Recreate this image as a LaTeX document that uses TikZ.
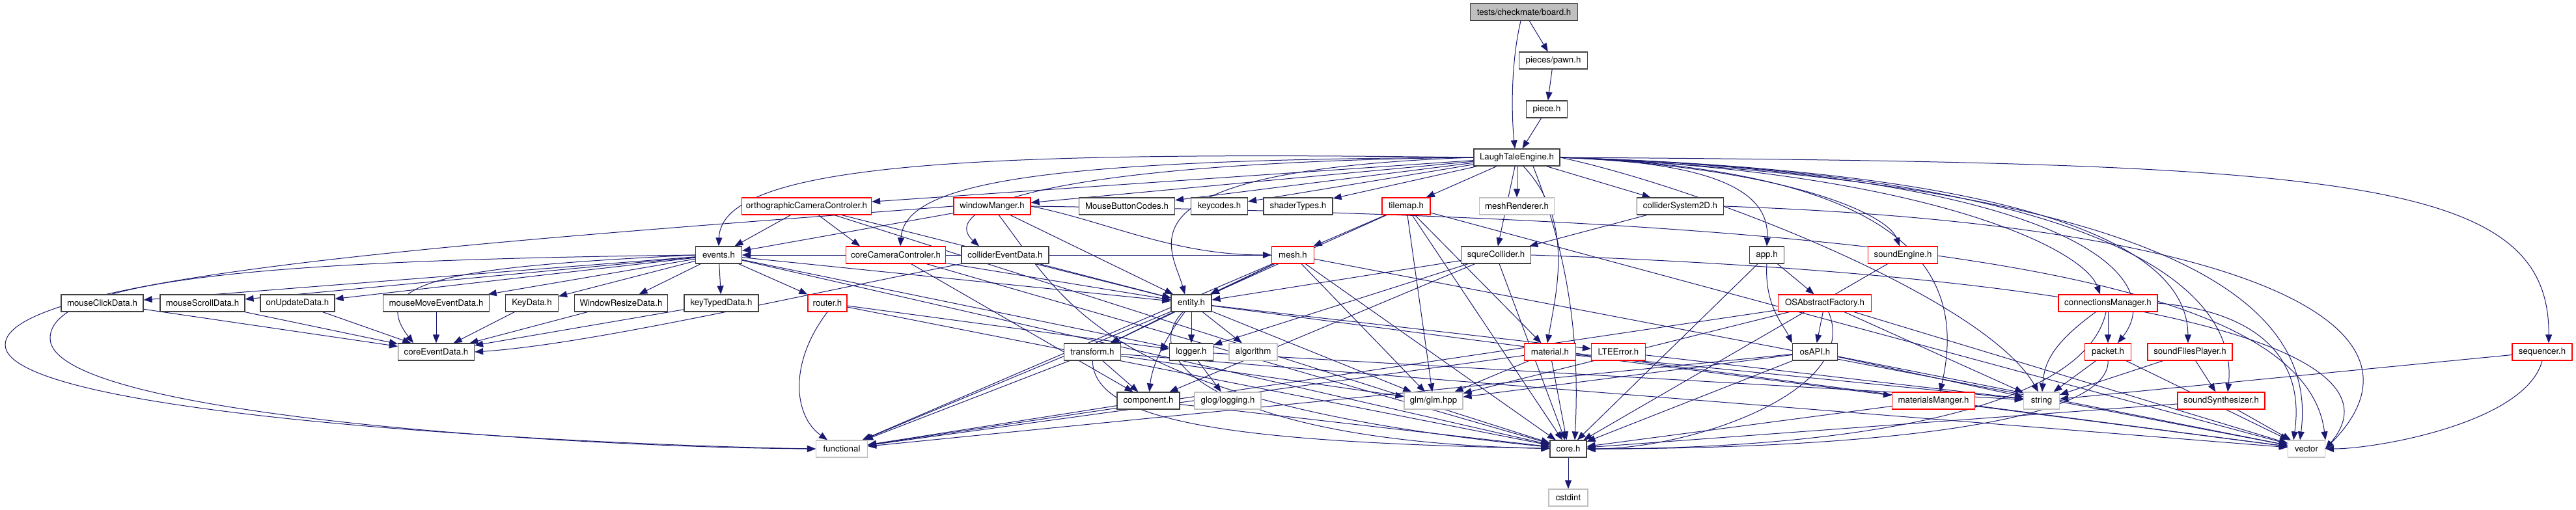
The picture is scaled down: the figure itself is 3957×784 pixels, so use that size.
\documentclass[tikz,border=0pt]{standalone}
\usepackage{fontspec}
\setmainfont{TeX Gyre Heros}
\usetikzlibrary{arrows.meta}
\definecolor{edgeblue}{HTML}{191970}
\definecolor{boxgrey}{HTML}{BFBFBF}
\definecolor{boxred}{HTML}{FF0000}
\definecolor{boxdark}{HTML}{404040}
\pgfdeclarelayer{background}
\pgfsetlayers{background,main}
\tikzset{
  hdr/.style={rectangle, draw=boxdark, line width=1.2pt, fill=white, minimum height=26pt, inner sep=0pt, font=\fontsize{13.3}{15}\selectfont},
  redbox/.style={hdr, draw=boxred},
  greybox/.style={hdr, draw=boxgrey},
  rootbox/.style={hdr, draw=boxdark, fill=boxgrey},
  dep/.style={draw=edgeblue, line width=1.0pt, -{Triangle[length=13pt,width=10pt]}},
}
\begin{document}
\begin{tikzpicture}[x=1pt,y=-1pt]
\useasboundingbox (0,0) rectangle (3957,784);
% row 0-3
\node[rootbox, minimum width=165pt] (board) at (2341,18.5) {tests/checkmate/board.h};
\node[hdr, minimum width=105pt] (pawn) at (2386,93) {pieces/pawn.h};
\node[hdr, minimum width=63pt] (piece) at (2376,168) {piece.h};
\node[hdr, minimum width=132pt] (LTE) at (2330,242) {LaughTaleEngine.h};
% row y=317
\node[redbox, minimum width=199pt] (ortho) at (1239,317) {orthographicCameraControler.h};
\node[redbox, minimum width=118pt] (winMgr) at (1524,317) {windowManger.h};
\node[hdr, minimum width=147pt] (MBC) at (1731,317) {MouseButtonCodes.h};
\node[hdr, minimum width=87pt] (keycodes) at (1873,317) {keycodes.h};
\node[hdr, minimum width=106pt] (shaderTypes) at (1994,317) {shaderTypes.h};
\node[redbox, minimum width=74pt] (tilemap) at (2160,317) {tilemap.h};
\node[greybox, minimum width=115pt] (meshRenderer) at (2330,317) {meshRenderer.h};
\node[hdr, minimum width=133pt] (colSys) at (2581,317) {colliderSystem2D.h};
% row y=392
\node[hdr, minimum width=71pt] (events) at (1104,392) {events.h};
\node[redbox, minimum width=153pt] (coreCam) at (1376,392) {coreCameraControler.h};
\node[hdr, minimum width=134pt] (colEvt) at (1544,392) {colliderEventData.h};
\node[redbox, minimum width=65pt] (mesh) at (1986,392) {mesh.h};
\node[hdr, minimum width=107pt] (squre) at (2298,392) {squreCollider.h};
\node[hdr, minimum width=53pt] (app) at (2714,392) {app.h};
\node[redbox, minimum width=107pt] (soundEngine) at (2923,392) {soundEngine.h};
% row y=466
\node[hdr, minimum width=126pt] (mouseClick) at (157,466) {mouseClickData.h};
\node[hdr, minimum width=130pt] (mouseScroll) at (311,466) {mouseScrollData.h};
\node[hdr, minimum width=114pt] (onUpdate) at (457,466) {onUpdateData.h};
\node[hdr, minimum width=163pt] (mouseMove) at (670,466) {mouseMoveEventData.h};
\node[hdr, minimum width=81pt] (keyData) at (817,466) {KeyData.h};
\node[hdr, minimum width=143pt] (winResize) at (954,466) {WindowResizeData.h};
\node[hdr, minimum width=114pt] (keyTyped) at (1108,466) {keyTypedData.h};
\node[redbox, minimum width=60pt] (router) at (1271,466) {router.h};
\node[hdr, minimum width=62pt] (entity) at (1830,466) {entity.h};
\node[redbox, minimum width=143pt] (osaf) at (2803,466) {OSAbstractFactory.h};
\node[redbox, minimum width=152pt] (connMgr) at (3238,466) {connectionsManager.h};
% row y=541
\node[hdr, minimum width=117pt] (coreEvt) at (670,541) {coreEventData.h};
\node[hdr, minimum width=87pt] (transform) at (1678,541) {transform.h};
\node[hdr, minimum width=67pt] (logger) at (1830,541) {logger.h};
\node[greybox, minimum width=74pt] (algorithm) at (1925,541) {algorithm};
\node[redbox, minimum width=79pt] (material) at (2381,541) {material.h};
\node[redbox, minimum width=83pt] (lteerror) at (2486,541) {LTEError.h};
\node[hdr, minimum width=69pt] (osapi) at (2788,541) {osAPI.h};
\node[redbox, minimum width=71pt] (packet) at (3238,541) {packet.h};
\node[redbox, minimum width=130pt] (sfp) at (3364,541) {soundFilesPlayer.h};
\node[redbox, minimum width=92pt] (sequencer) at (3905,541) {sequencer.h};
% row y=616
\node[hdr, minimum width=96pt] (component) at (1764,616) {component.h};
\node[greybox, minimum width=102pt] (glog) at (1886,616) {glog/logging.h};
\node[greybox, minimum width=90pt] (glm) at (2202,616) {glm/glm.hpp};
\node[redbox, minimum width=127pt] (matMgr) at (2970,616) {materialsManger.h};
\node[greybox, minimum width=55pt] (string) at (3136,616) {string};
\node[redbox, minimum width=134pt] (synth) at (3412,616) {soundSynthesizer.h};
% row y=690
\node[greybox, minimum width=79pt] (functional) at (1293,690) {functional};
\node[hdr, minimum width=56pt] (core) at (2409,690) {core.h};
\node[greybox, minimum width=57pt] (vector) at (3543,690) {vector};
\node[greybox, minimum width=60pt] (cstdint) at (2409,765) {cstdint};

\begin{pgfonlayer}{background}
% top
\draw[dep] (board) -- (pawn);
\draw[dep] (pawn) -- (piece);
\draw[dep] (piece) -- (LTE);
\draw[dep] ([xshift=-5pt]board.south) .. controls (2320,100) and (2322,180) .. ([xshift=-3pt]LTE.north);
% LaughTaleEngine
\draw[dep] (LTE.west) .. controls (1500,232) and (1108,250) .. (events.north);
\draw[dep] (LTE) -- (ortho);
\draw[dep] (LTE) -- (winMgr);
\draw[dep] (LTE) -- (MBC);
\draw[dep] (LTE) -- (keycodes);
\draw[dep] (LTE) -- (shaderTypes);
\draw[dep] (LTE) -- (tilemap);
\draw[dep] (LTE) -- (meshRenderer);
\draw[dep] (LTE) -- (colSys);
\draw[dep] (LTE.west) .. controls (1600,245) and (1390,280) .. ([xshift=7pt]coreCam.north);
\draw[dep] (LTE.west) .. controls (1600,250) and (1440,320) .. ([xshift=-40pt]colEvt.north);
\draw[dep] (LTE.west) .. controls (1700,262) and (1800,380) .. ([xshift=-10pt]entity.north);
\draw[dep] (LTE) -- (squre);
\draw[dep] (LTE.east) .. controls (2650,250) and (2718,300) .. (app.north);
\draw[dep] (LTE.east) .. controls (2750,258) and (2900,330) .. ([xshift=-5pt]soundEngine.north);
\draw[dep] (LTE.east) .. controls (2950,262) and (3200,380) .. ([xshift=-12pt]connMgr.north);
\draw[dep] ([xshift=10pt]LTE.south) .. controls (2420,340) and (2390,450) .. ([xshift=-4pt]material.north);
\draw[dep] ([xshift=25pt]LTE.south) .. controls (2420,420) and (2425,560) .. ([xshift=10pt]core.north);
\draw[dep] (LTE.east) .. controls (2980,262) and (3015,450) .. ([xshift=10pt]matMgr.north);
\draw[dep] (LTE.east) .. controls (3200,268) and (3330,430) .. ([xshift=15pt]packet.north);
\draw[dep] (LTE.east) .. controls (3250,268) and (3360,420) .. ([xshift=-3pt]sfp.north);
\draw[dep] (LTE.east) .. controls (3330,270) and (3435,480) .. ([xshift=10pt]synth.north);
\draw[dep] (LTE.east) .. controls (3600,250) and (3917,270) .. ([xshift=10pt]sequencer.north);
\draw[dep] (LTE.east) .. controls (2620,290) and (3050,460) .. ([xshift=-5pt]string.north);
\draw[dep] (LTE.east) .. controls (3350,285) and (3560,470) .. ([xshift=-10pt]vector.north);
% orthographicCameraControler
\draw[dep] (ortho) -- (events);
\draw[dep] (ortho) -- ([xshift=-55pt]coreCam.north);
\draw[dep] (ortho) -- (entity);
\draw[dep] (ortho) -- (core);
% windowManger
\draw[dep] (winMgr.west) .. controls (800,368) and (8,420) .. (8,530) .. controls (8,640) and (900,684) .. (functional.west);
\draw[dep] (winMgr) -- (events);
\draw[dep] (winMgr) -- (entity);
\draw[dep] (winMgr.east) .. controls (1700,340) and (1800,392) .. (mesh.west);
\draw[dep] (winMgr) .. controls (1640,470) and (1700,620) .. (core);
\draw[dep] (winMgr.east) .. controls (2900,335) and (3540,420) .. (vector.north east);
% coreCameraControler
\draw[dep] (coreCam) -- (events);
\draw[dep] (coreCam) -- (entity);
\draw[dep] (coreCam) -- (component);
\draw[dep] (coreCam) -- (core);
% colliderEventData
\draw[dep] (colEvt) -- (entity);
\draw[dep] (colEvt.south west) .. controls (1200,460) and (900,530) .. (coreEvt.east);
% events
\draw[dep] (events) -- (mouseClick);
\draw[dep] (events) -- (mouseScroll);
\draw[dep] (events) -- (onUpdate);
\draw[dep] (events) -- (mouseMove);
\draw[dep] (events) -- (keyData);
\draw[dep] (events) -- (winResize);
\draw[dep] (events) -- (keyTyped);
\draw[dep] (events) -- (router);
\draw[dep] (events.west) .. controls (700,410) and (560,430) .. ([xshift=-35pt]coreEvt.north);
\draw[dep] (events.west) .. controls (400,400) and (77,430) .. (77,520) .. controls (77,640) and (900,688) .. (functional.west);
\draw[dep] (events) -- (entity);
\draw[dep] (events) -- (logger);
\draw[dep] (events) -- (core);
% event data
\draw[dep] (mouseClick) -- (coreEvt);
\draw[dep] (mouseScroll) -- (coreEvt);
\draw[dep] (onUpdate) -- (coreEvt);
\draw[dep] (mouseMove) -- (coreEvt);
\draw[dep] (keyData) -- (coreEvt);
\draw[dep] (winResize) -- (coreEvt);
\draw[dep] (keyTyped) -- (coreEvt);
% router
\draw[dep] (router.south) .. controls (1210,560) and (1220,640) .. ([xshift=-22pt]functional.north);
\draw[dep] (router) -- (logger);
\draw[dep] (router) -- (core);
% entity
\draw[dep] (entity) -- (transform);
\draw[dep] (entity) -- (logger);
\draw[dep] (entity) -- (algorithm);
\draw[dep] (entity) .. controls (1790,520) and (1770,560) .. (component);
\draw[dep] (entity) -- (functional);
\draw[dep] (entity) -- (glm);
\draw[dep] (entity) .. controls (1740,560) and (1900,680) .. (core);
\draw[dep] (entity) -- (vector);
\draw[dep] (entity) -- (lteerror);
% transform
\draw[dep] (transform) -- (component);
\draw[dep] (transform) -- (functional);
\draw[dep] (transform) -- (glm);
\draw[dep] (transform) .. controls (1680,650) and (1900,680) .. (core);
\draw[dep] (transform) -- (vector);
% logger
\draw[dep] (logger) -- (glog);
\draw[dep] (logger) -- (string);
% component
\draw[dep] (component) -- (functional);
\draw[dep] (component) -- (core);
% mesh
\draw[dep] (mesh) -- (events);
\draw[dep] (mesh) -- (entity);
\draw[dep] (mesh) -- (transform);
\draw[dep] (mesh) -- (functional);
\draw[dep] (mesh) -- (glm);
\draw[dep] (mesh) -- (core);
\draw[dep] (mesh) -- (vector);
% tilemap
\draw[dep] (tilemap) -- (mesh);
\draw[dep] (tilemap) -- (entity);
\draw[dep] (tilemap) -- (glm);
\draw[dep] (tilemap) -- (core);
\draw[dep] (tilemap) -- (material);
\draw[dep] (tilemap) -- (vector);
% squreCollider
\draw[dep] (squre) -- (entity);
\draw[dep] (squre) -- (logger);
\draw[dep] (squre) -- (component);
\draw[dep] (squre) -- (core);
\draw[dep] (squre.east) .. controls (3300,425) and (3700,540) .. (vector.east);
% colliderSystem2D
\draw[dep] (colSys) -- (squre);
\draw[dep] (colSys.east) .. controls (3450,345) and (3760,500) .. (vector.east);
% app
\draw[dep] (app) -- (osaf);
\draw[dep] (app.south) .. controls (2710,470) and (2740,500) .. (osapi.north west);
\draw[dep] (app) -- (core);
% OSAbstractFactory
\draw[dep] (osaf) -- (osapi);
\draw[dep] (osaf) -- (glm);
\draw[dep] (osaf) -- (functional);
\draw[dep] (osaf) .. controls (2860,600) and (2600,690) .. (core);
\draw[dep] (osaf) -- (string);
\draw[dep] (osaf) -- (vector);
% osAPI
\draw[dep] (osapi) -- (glm);
\draw[dep] (osapi) -- (functional);
\draw[dep] (osapi) -- (core);
\draw[dep] (osapi) -- (string);
\draw[dep] (osapi) -- (vector);
% soundEngine
\draw[dep] (soundEngine) -- (core);
% material
\draw[dep] (material) -- (glm);
\draw[dep] (material) -- (core);
\draw[dep] (material) -- (matMgr);
\draw[dep] (material) -- (string);
\draw[dep] (material) -- (functional);
% LTEError
\draw[dep] (lteerror) -- (string);
% materialsManger
\draw[dep] (matMgr) -- (core);
\draw[dep] (matMgr) -- (vector);
% connectionsManager
\draw[dep] (connMgr) .. controls (3150,530) and (3140,560) .. (string);
\draw[dep] (connMgr) .. controls (3200,640) and (2800,690) .. (core);
\draw[dep] (connMgr) -- (packet);
\draw[dep] (connMgr.east) .. controls (3480,480) and (3540,560) .. ([xshift=-20pt]vector.north);
% packet
\draw[dep] (packet) -- (string);
\draw[dep] (packet) .. controls (3240,660) and (2800,690) .. (core);
\draw[dep] (packet) -- (vector);
% soundFilesPlayer
\draw[dep] (sfp) -- (string);
\draw[dep] (sfp) -- (synth);
% soundSynthesizer
\draw[dep] (synth) -- (vector);
\draw[dep] (synth) -- (core);
% sequencer
\draw[dep] (sequencer) -- (string);
\draw[dep] (sequencer.south) .. controls (3880,650) and (3650,690) .. (vector.east);
% core
\draw[dep] (core) -- (cstdint);
\end{pgfonlayer}
\end{tikzpicture}
\end{document}
